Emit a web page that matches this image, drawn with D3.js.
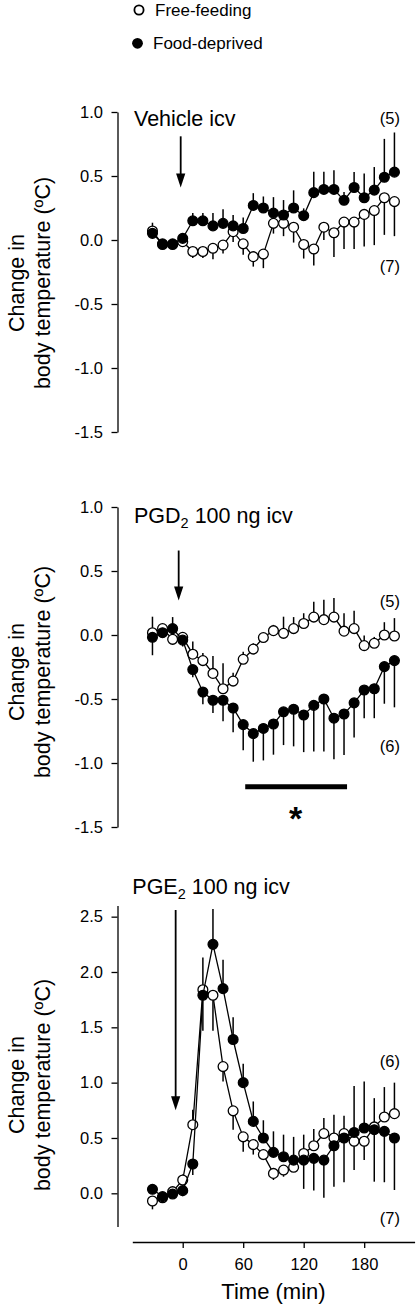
<!DOCTYPE html>
<html>
<head>
<meta charset="utf-8">
<script src="https://cdn.jsdelivr.net/npm/d3@7"></script>
<style>
  html, body { margin: 0; padding: 0; background: #fff; }
  svg { display: block; font-family: "Liberation Sans", Arial, sans-serif; }
</style>
</head>
<body>
<svg id="chart" width="417" height="1306"></svg>
<script>
// ---------------- data ----------------
const times = [-30,-20,-10,0,10,20,30,40,50,60,70,80,90,100,110,120,130,140,150,160,170,180,190,200,210];

// Panel 1: Vehicle icv
const vehFree    = [0.07,-0.035,-0.035,-0.013,-0.09,-0.09,-0.065,-0.04,0.065,-0.03,-0.13,-0.11,0.13,0.13,0.10,-0.035,-0.07,0.10,0.057,0.14,0.14,0.20,0.23,0.33,0.30];
const vehFreeSem = [0.065,0.03,0.03,0.03,0.05,0.05,0.086,0.065,0.08,0.086,0.078,0.11,0.08,0.10,0.12,0.11,0.13,0.10,0.19,0.21,0.21,0.25,0.27,0.29,0.27];
const vehFood    = [0.052,-0.03,-0.03,0.013,0.15,0.15,0.11,0.13,0.11,0.09,0.27,0.25,0.21,0.195,0.25,0.19,0.37,0.395,0.395,0.31,0.41,0.33,0.39,0.49,0.53];
const vehFoodSem = [0.04,0.03,0.03,0.03,0.06,0.06,0.10,0.11,0.086,0.086,0.096,0.09,0.125,0.117,0.138,0.057,0.164,0.138,0.15,0.065,0.122,0.19,0.18,0.30,0.31];

// Panel 2: PGD2 100 ng icv
const pgdFree    = [0.018,0.05,-0.034,-0.018,-0.15,-0.20,-0.30,-0.42,-0.36,-0.19,-0.11,-0.02,0.034,0.013,0.05,0.09,0.14,0.12,0.14,0.03,0.05,-0.083,-0.065,0.0,-0.008];
const pgdFreeSem = [0.125,0.034,0.04,0.03,0.10,0.06,0.135,0.20,0.065,0.06,0.045,0.034,0.045,0.13,0.09,0.08,0.12,0.156,0.15,0.14,0.14,0.08,0.05,0.10,0.14];
const pgdFood    = [-0.018,0.018,0.05,-0.04,-0.27,-0.445,-0.51,-0.51,-0.57,-0.70,-0.77,-0.73,-0.695,-0.60,-0.58,-0.625,-0.55,-0.50,-0.65,-0.617,-0.53,-0.43,-0.42,-0.247,-0.20];
const pgdFoodSem = [0.14,0.04,0.09,0.05,0.06,0.096,0.10,0.164,0.19,0.20,0.22,0.25,0.24,0.26,0.29,0.29,0.36,0.41,0.32,0.32,0.27,0.22,0.23,0.29,0.365];

// Panel 3: PGE2 100 ng icv
const pgeFree    = [-0.07,-0.04,0.015,0.12,0.62,1.84,1.79,1.145,0.745,0.51,0.44,0.35,0.18,0.21,0.235,0.36,0.43,0.54,0.50,0.54,0.47,0.47,0.60,0.69,0.72];
const pgeFreeSem = [0.075,0.03,0.03,0.05,0.135,0.29,0.32,0.135,0.17,0.135,0.09,0.05,0.06,0.06,0.04,0.17,0.15,0.14,0.21,0.16,0.26,0.17,0.26,0.27,0.28];
const pgeFood    = [0.036,-0.03,-0.006,0.024,0.265,1.79,2.25,1.85,1.39,1.0,0.65,0.50,0.37,0.33,0.30,0.30,0.316,0.30,0.43,0.50,0.55,0.59,0.575,0.56,0.50];
const pgeFoodSem = [0.03,0.03,0.03,0.05,0.10,0.32,0.32,0.26,0.20,0.17,0.18,0.16,0.19,0.20,0.21,0.26,0.29,0.34,0.37,0.40,0.42,0.42,0.47,0.46,0.47];

const yTicks12 = [-1.5,-1.0,-0.5,0.0,0.5,1.0];
const yTicks3  = [0.0,0.5,1.0,1.5,2.0,2.5];
const xTicks   = [0,60,120,180];
const panelTitles = ["Vehicle icv", "PGD|2| 100 ng icv", "PGE|2| 100 ng icv"];
const nLabels = [["(5)","(7)"],["(5)","(6)"],["(6)","(7)"]];
const legendLabels = ["Free-feeding","Food-deprived"];
const yLabelLines = ["Change in","body temperature (ºC)"];
const xLabel = "Time (min)";

// ---------------- layout ----------------
const svg = d3.select("#chart");
const FONT = '"Liberation Sans", Arial, sans-serif';
const axisX = 117.5;
const x = d3.scaleLinear().domain([-50, 230]).range([132.3, 414.6]);

const panels = [
  { free: vehFree, freeSem: vehFreeSem, food: vehFood, foodSem: vehFoodSem,
    domain: [-1.5, 1.0], range: [432, 112], ticks: yTicks12, title: panelTitles[0],
    titleY: 125.7, titleX: 134, labelY: 283,
    arrow: { t: -2, from: 0.81, to: 0.41 },
    nl: [{ text: nLabels[0][0], y: 124 }, { text: nLabels[0][1], y: 272 }] },
  { free: pgdFree, freeSem: pgdFreeSem, food: pgdFood, foodSem: pgdFoodSem,
    domain: [-1.5, 1.0], range: [827, 507], ticks: yTicks12, title: panelTitles[1],
    titleY: 523.3, titleX: 134, labelY: 672,
    arrow: { t: -4, from: 0.66, to: 0.27 },
    nl: [{ text: nLabels[1][0], y: 607 }, { text: nLabels[1][1], y: 752 }],
    sig: { t0: 62, t1: 163, y: -1.185, star: 112, starY: -1.33 } },
  { free: pgeFree, freeSem: pgeFreeSem, food: pgeFood, foodSem: pgeFoodSem,
    domain: [-0.3, 2.6], range: [1226.5, 905.6], ticks: yTicks3, title: panelTitles[2],
    titleY: 894.3, titleX: 132.3, labelY: 1085,
    arrow: { t: -7, from: 2.56, to: 0.75 },
    nl: [{ text: nLabels[2][0], y: 1067 }, { text: nLabels[2][1], y: 1223.5 }],
    xAxis: true }
];

const R = 4.9;

panels.forEach((p) => {
  const y = d3.scaleLinear().domain(p.domain).range(p.range);
  const g = svg.append("g");

  // y axis
  const ya = g.append("g").attr("transform", `translate(${axisX},0)`)
    .call(d3.axisLeft(y).tickValues(p.ticks).tickSize(6).tickSizeOuter(0).tickPadding(8.5)
      .tickFormat(d => d.toFixed(1)));
  ya.select(".domain").attr("stroke", "#000").attr("stroke-width", 1.3);
  ya.selectAll(".tick line").attr("stroke", "#000").attr("stroke-width", 1.3);
  ya.selectAll(".tick text").attr("font-family", FONT).attr("font-size", 16.5).attr("fill", "#000");

  // y label
  const yl = g.append("text")
    .attr("transform", `translate(16,${p.labelY}) rotate(-90)`)
    .attr("text-anchor", "middle").attr("font-family", FONT).attr("font-size", 21.5).attr("fill", "#000");
  yl.append("tspan").attr("x", 0).attr("dy", "0.35em").text(yLabelLines[0]);
  yl.append("tspan").attr("x", 0).attr("dy", 26).text(yLabelLines[1]);

  // title with subscript
  const parts = p.title.split("|");
  const tt = g.append("text").attr("x", p.titleX).attr("y", p.titleY)
    .attr("font-family", FONT).attr("font-size", 21.5).attr("fill", "#000");
  tt.append("tspan").text(parts[0]);
  if (parts.length > 1) {
    tt.append("tspan").attr("font-size", 14.5).attr("dy", 5).text(parts[1]);
    tt.append("tspan").attr("dy", -5).text(parts[2]);
  }

  // arrow
  const ax = x(p.arrow.t), ay0 = y(p.arrow.from), ay1 = y(p.arrow.to);
  g.append("line").attr("x1", ax).attr("x2", ax).attr("y1", ay0).attr("y2", ay1 - 10)
    .attr("stroke", "#000").attr("stroke-width", 1.8);
  g.append("path").attr("d", `M${ax - 4.6},${ay1 - 14} L${ax + 4.6},${ay1 - 14} L${ax},${ay1} Z`).attr("fill", "#000");

  // n labels
  p.nl.forEach(n => {
    g.append("text").attr("x", 400).attr("y", n.y).attr("text-anchor", "end")
      .attr("font-family", FONT).attr("font-size", 16.5).attr("fill", "#000").text(n.text);
  });

  // significance bar
  if (p.sig) {
    g.append("line").attr("x1", x(p.sig.t0)).attr("x2", x(p.sig.t1))
      .attr("y1", y(p.sig.y)).attr("y2", y(p.sig.y)).attr("stroke", "#000").attr("stroke-width", 5);
    g.append("text").attr("x", x(p.sig.star)).attr("y", y(p.sig.starY)).attr("text-anchor", "middle")
      .attr("dy", "0.72em").attr("font-family", FONT).attr("font-size", 34).attr("font-weight", "bold")
      .attr("fill", "#000").text("*");
  }

  // series
  const series = [
    { vals: p.free, sem: p.freeSem, other: p.food, fill: "#fff" },
    { vals: p.food, sem: p.foodSem, other: p.free, fill: "#000" }
  ];
  const line = d3.line().x((d, i) => x(times[i])).y(d => y(d));
  series.forEach(s => {
    const sg = g.append("g");
    sg.append("path").datum(s.vals).attr("d", line).attr("fill", "none")
      .attr("stroke", "#000").attr("stroke-width", 1.3);
    // error bars: drawn away from the other group
    sg.selectAll("line.err").data(s.vals).join("line").attr("class", "err")
      .attr("x1", (d, i) => x(times[i])).attr("x2", (d, i) => x(times[i]))
      .attr("y1", d => y(d))
      .attr("y2", (d, i) => y(d + (d >= s.other[i] ? s.sem[i] : -s.sem[i])))
      .attr("stroke", "#000").attr("stroke-width", 1.5);
    sg.selectAll("circle").data(s.vals).join("circle")
      .attr("cx", (d, i) => x(times[i])).attr("cy", d => y(d)).attr("r", R)
      .attr("fill", s.fill).attr("stroke", "#000").attr("stroke-width", 1.3);
  });

  if (p.xAxis) {
    const xa = svg.append("g").attr("transform", "translate(0,1242)")
      .call(d3.axisBottom(x).tickValues(xTicks).tickSize(6).tickSizeOuter(0).tickPadding(10));
    xa.select(".domain").attr("stroke", "#000").attr("stroke-width", 1.3);
    xa.selectAll(".tick line").attr("stroke", "#000").attr("stroke-width", 1.3);
    xa.selectAll(".tick text").attr("font-family", FONT).attr("font-size", 16.5).attr("fill", "#000");
    svg.append("text").attr("x", x(90)).attr("y", 1299).attr("text-anchor", "middle")
      .attr("font-family", FONT).attr("font-size", 22).attr("fill", "#000").text(xLabel);
  }
});

// legend
const leg = svg.append("g");
leg.append("circle").attr("cx", 139).attr("cy", 10).attr("r", 4.6).attr("fill", "#fff").attr("stroke", "#000").attr("stroke-width", 1.8);
leg.append("text").attr("x", 155).attr("y", 16).attr("font-family", FONT).attr("font-size", 17).attr("fill", "#000").text(legendLabels[0]);
leg.append("circle").attr("cx", 137.5).attr("cy", 43.3).attr("r", 5.4).attr("fill", "#000");
leg.append("text").attr("x", 153).attr("y", 49).attr("font-family", FONT).attr("font-size", 17).attr("fill", "#000").text(legendLabels[1]);
</script>
</body>
</html>
